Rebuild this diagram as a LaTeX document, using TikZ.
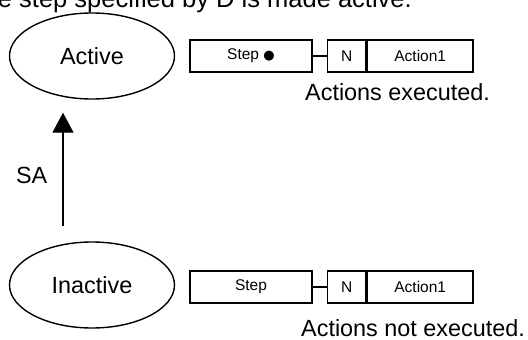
\documentclass[tikz,border=0pt]{standalone}
\usepackage{fontspec}
\setmainfont{Liberation Sans}
\newfontfamily\symfont{DejaVu Sans}
\usepackage{tikz}
\usetikzlibrary{positioning,arrows.meta,shapes.geometric}

\begin{document}
\begin{tikzpicture}[x=1pt, y=-1pt,
  node distance=14pt and 14pt,
  big/.style={font=\fontsize{23.4}{28}\selectfont},
  small/.style={font=\fontsize{15.5}{18}\selectfont},
  state/.style={ellipse, draw, line width=1.4pt, big,
    minimum width=165pt, minimum height=86pt, inner sep=0pt},
  stepbox/.style={draw, line width=1.6pt, small,
    minimum width=122pt, minimum height=32pt, inner sep=0pt},
  qualbox/.style={draw, line width=1.6pt, small,
    minimum width=38pt, minimum height=32pt, inner sep=0pt},
  actbox/.style={draw, line width=1.6pt, small,
    minimum width=106pt, minimum height=32pt, inner sep=0pt},
  note/.style={big, inner sep=0pt, anchor=base west},
  link/.style={line width=1.6pt},
  arr/.style={-{Triangle[length=20pt, width=21pt]}, line width=1.4pt}]

  \useasboundingbox (0,0) rectangle (528,340);
  \clip (0,0) rectangle (528,340);

  \node[font=\fontsize{25.5}{30}\selectfont, inner sep=0pt, anchor=base east] (title)
    at (412,7) {The step specified by D is made active.};

  \node[state] (active) at (92,56) {Active};
  \node[stepbox] (stepA) at (251,56)
    {Step {\symfont\fontsize{13}{15}\selectfont ●}};
  \node[qualbox, right=of stepA] (qualA) {N};
  \node[actbox, right=0pt of qualA] (actA) {Action1};
  \node[note] (noteA) at (305,100) {Actions executed.};

  \node[state] (inactive) at (92,285) {Inactive};
  \node[stepbox] (stepI) at (251,287) {Step};
  \node[qualbox, right=of stepI] (qualI) {N};
  \node[actbox, right=0pt of qualI] (actI) {Action1};
  \node[note] (noteI) at (301,336) {Actions not executed.};

  \draw[link] (stepA) -- (qualA);
  \draw[link] (stepI) -- (qualI);
  \draw[arr] ([xshift=-29pt, yshift=15pt]inactive.north)
    -- node[big, left=15pt, pos=0.45, inner sep=0pt] (sa) {SA}
    ([xshift=-29pt, yshift=-13pt]active.south);
\end{tikzpicture}
\end{document}
